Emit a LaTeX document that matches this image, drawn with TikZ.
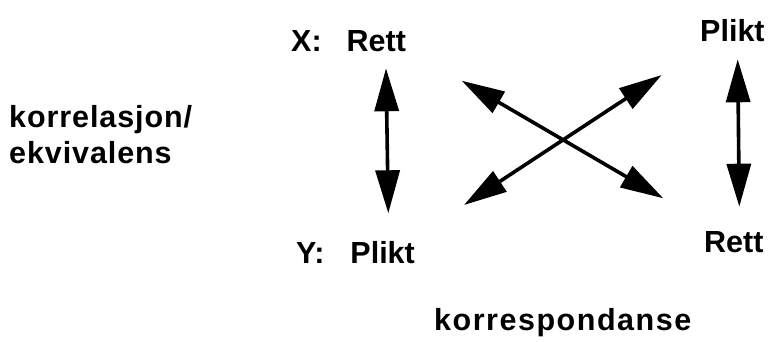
\documentclass[tikz,border=0pt]{standalone}
\usepackage{fontspec}
\setmainfont{Liberation Sans}
\usetikzlibrary{arrows.meta}
\tikzset{
  lbl/.style={anchor=base west, inner sep=0pt, font=\fontsize{30.5}{36}\selectfont\bfseries},
  wide/.style={lbl, font=\fontsize{30.5}{36}\selectfont\bfseries\addfontfeature{LetterSpace=#1}},
  rel/.style={line width=3.6pt, {Triangle[length=43pt,width=24pt]}-{Triangle[length=43pt,width=24pt]}},
}
\begin{document}
\begin{tikzpicture}[x=1pt,y=-1pt]
\useasboundingbox (0,0) rectangle (774,342);

% labels
\node[lbl] (xr) at (291,51.7) {X:\hspace{25pt}Rett};
\node[lbl] (yp) at (296,263.3) {Y:\hspace{26pt}Plikt};
\node[lbl] (pr) at (700,41.7) {Plikt};
\node[lbl] (rr) at (704,252.3) {Rett};
\node[wide=3, align=left] (kor) at (9,163.3) {korrelasjon/\\ekvivalens};
\node[wide=5] (kres) at (434,330) {korrespondanse};

% arrow end points
\coordinate (lt) at (386,68.3);
\coordinate (lb) at (388.3,213.3);
\coordinate (rt) at (737.7,59.3);
\coordinate (rb) at (739.3,206.7);
\coordinate (ul) at (461.7,80.7);
\coordinate (lr) at (663.3,198.3);
\coordinate (ur) at (661.7,75);
\coordinate (ll) at (464,205);

% two-headed arrows
\draw[rel] (lt) -- (lb);
\draw[rel] (rt) -- (rb);
\draw[rel] (ul) -- (lr);
\draw[rel] (ur) -- (ll);
\end{tikzpicture}
\end{document}
